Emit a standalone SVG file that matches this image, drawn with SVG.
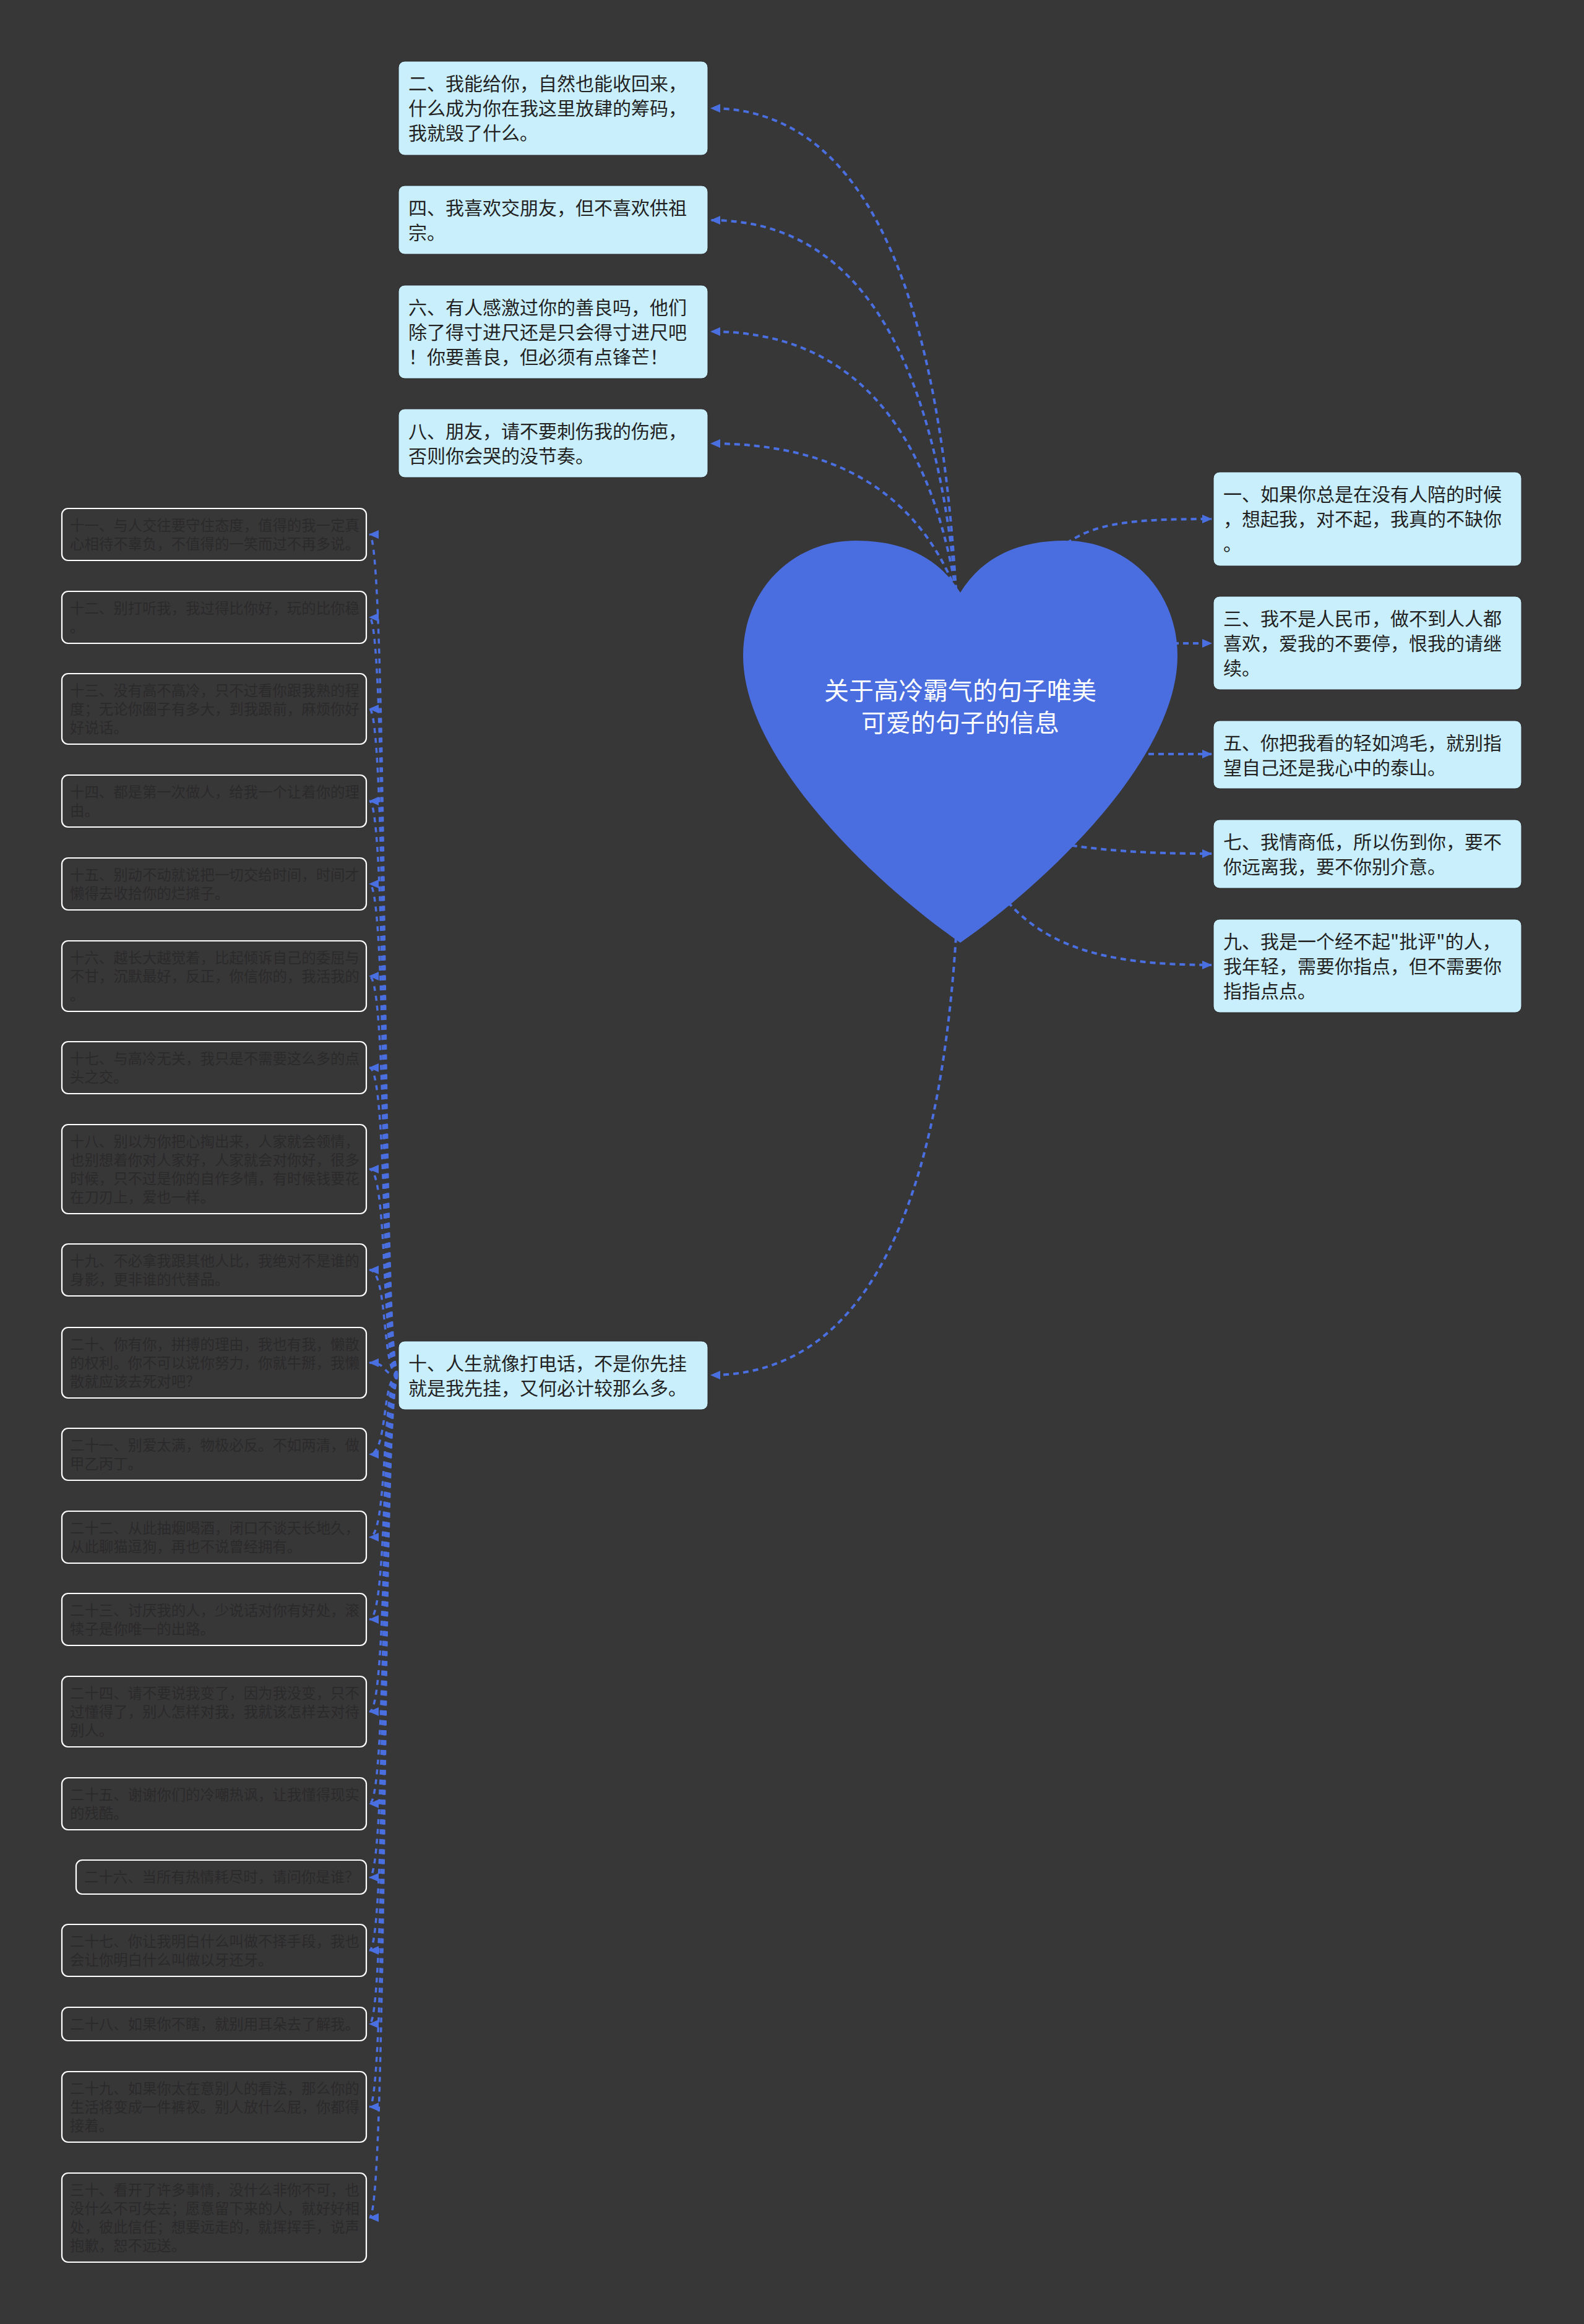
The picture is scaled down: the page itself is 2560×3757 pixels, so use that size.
<svg xmlns="http://www.w3.org/2000/svg" width="2560" height="3757" viewBox="0 0 2560 3757">
<defs>
<style>
.lb{fill:#c9eefc;stroke:#2a2a2a;stroke-width:1}
.lt{font-family:"Noto Sans CJK SC","Noto Sans",sans-serif;font-size:30px;fill:#222}
.db{fill:#383738;stroke:#ffffff;stroke-width:2.2}
.dt{font-family:"Noto Sans CJK SC","Noto Sans",sans-serif;font-size:23.4px;fill:#2b2a2b}
.c{fill:none;stroke:#4a6fe0;stroke-width:4;stroke-dasharray:9 7;marker-end:url(#ar)}
.cl{fill:none;stroke:#4a6fe0;stroke-width:3.5;stroke-dasharray:8 8;marker-end:url(#ar)}
.tt{font-family:"Noto Sans CJK SC","Noto Sans",sans-serif;font-size:40px;fill:#ffffff;text-anchor:middle}
</style>
<marker id="ar" viewBox="0 0 16 16" markerWidth="16" markerHeight="16" refX="15" refY="8" orient="auto" markerUnits="userSpaceOnUse">
<path d="M0,1 L16,8 L0,15 z" fill="#4a6fe0"/>
</marker>
</defs>
<rect width="2560" height="3757" fill="#383738"/>
<g id="connectors">
<path class="c" d="M1545,955 Q1500,175 1149,175"/>
<path class="c" d="M1545,955 Q1490,356 1149,356"/>
<path class="c" d="M1545,955 Q1475,536 1149,536"/>
<path class="c" d="M1545,955 Q1450,717 1149,717"/>
<path class="c" d="M1700,900 C1750,845 1820,839 1958,839"/>
<path class="c" d="M1880,1040 L1958,1040"/>
<path class="c" d="M1840,1219 L1958,1219"/>
<path class="c" d="M1700,1362 C1780,1375 1850,1380 1958,1380"/>
<path class="c" d="M1600,1420 C1670,1530 1780,1560 1958,1560"/>
<path class="c" d="M1545,1515 Q1500,2223 1149,2223"/>
<path class="cl" d="M644,2223 C616,2223 628,864 597,864"/>
<path class="cl" d="M644,2223 C616,2223 628,998 597,998"/>
<path class="cl" d="M644,2223 C616,2223 628,1146 597,1146"/>
<path class="cl" d="M644,2223 C616,2223 628,1295 597,1295"/>
<path class="cl" d="M644,2223 C616,2223 628,1429 597,1429"/>
<path class="cl" d="M644,2223 C616,2223 628,1578 597,1578"/>
<path class="cl" d="M644,2223 C616,2223 628,1726 597,1726"/>
<path class="cl" d="M644,2223 C616,2223 628,1890 597,1890"/>
<path class="cl" d="M644,2223 C616,2223 628,2053 597,2053"/>
<path class="cl" d="M644,2223 C616,2223 628,2203 597,2203"/>
<path class="cl" d="M644,2223 C616,2223 628,2351 597,2351"/>
<path class="cl" d="M644,2223 C616,2223 628,2485 597,2485"/>
<path class="cl" d="M644,2223 C616,2223 628,2618 597,2618"/>
<path class="cl" d="M644,2223 C616,2223 628,2767 597,2767"/>
<path class="cl" d="M644,2223 C616,2223 628,2916 597,2916"/>
<path class="cl" d="M644,2223 C616,2223 628,3035 597,3035"/>
<path class="cl" d="M644,2223 C616,2223 628,3153 597,3153"/>
<path class="cl" d="M644,2223 C616,2223 628,3272 597,3272"/>
<path class="cl" d="M644,2223 C616,2223 628,3406 597,3406"/>
<path class="cl" d="M644,2223 C616,2223 628,3585 597,3585"/>
</g>
<g id="root">
<path d="M1552,958 C1515,898 1455,874 1383,874 C1280,874 1201,955 1201,1060 C1201,1230 1422,1434 1552,1524 C1682,1434 1903,1230 1903,1060 C1903,955 1824,874 1721,874 C1649,874 1589,898 1552,958 Z" fill="#4a6ee0"/>
<text class="tt" x="1552" y="1131">关于高冷霸气的句子唯美</text>
<text class="tt" x="1552" y="1183">可爱的句子的信息</text>
</g>
<g id="n2"><rect class="lb" x="644" y="99" width="500" height="152" rx="10"/><text class="lt" x="660"><tspan x="660" y="146">二、我能给你，自然也能收回来，</tspan><tspan x="660" y="186">什么成为你在我这里放肆的筹码，</tspan><tspan x="660" y="226">我就毁了什么。</tspan></text></g>
<g id="n4"><rect class="lb" x="644" y="300" width="500" height="111" rx="10"/><text class="lt"><tspan x="660" y="347">四、我喜欢交朋友，但不喜欢供祖</tspan><tspan x="660" y="387">宗。</tspan></text></g>
<g id="n6"><rect class="lb" x="644" y="461" width="500" height="151" rx="10"/><text class="lt"><tspan x="660" y="508">六、有人感激过你的善良吗，他们</tspan><tspan x="660" y="548">除了得寸进尺还是只会得寸进尺吧</tspan><tspan x="660" y="588">！你要善良，但必须有点锋芒！</tspan></text></g>
<g id="n8"><rect class="lb" x="644" y="661" width="500" height="111" rx="10"/><text class="lt"><tspan x="660" y="708">八、朋友，请不要刺伤我的伤疤，</tspan><tspan x="660" y="748">否则你会哭的没节奏。</tspan></text></g>
<g id="n10"><rect class="lb" x="644" y="2168" width="500" height="111" rx="10"/><text class="lt"><tspan x="660" y="2215">十、人生就像打电话，不是你先挂</tspan><tspan x="660" y="2255">就是我先挂，又何必计较那么多。</tspan></text></g>
<g id="n1"><rect class="lb" x="1961" y="763" width="498" height="152" rx="10"/><text class="lt"><tspan x="1977" y="810">一、如果你总是在没有人陪的时候</tspan><tspan x="1977" y="850">，想起我，对不起，我真的不缺你</tspan><tspan x="1977" y="890">。</tspan></text></g>
<g id="n3"><rect class="lb" x="1961" y="964" width="498" height="151" rx="10"/><text class="lt"><tspan x="1977" y="1011">三、我不是人民币，做不到人人都</tspan><tspan x="1977" y="1051">喜欢，爱我的不要停，恨我的请继</tspan><tspan x="1977" y="1091">续。</tspan></text></g>
<g id="n5"><rect class="lb" x="1961" y="1165" width="498" height="110" rx="10"/><text class="lt"><tspan x="1977" y="1212">五、你把我看的轻如鸿毛，就别指</tspan><tspan x="1977" y="1252">望自己还是我心中的泰山。</tspan></text></g>
<g id="n7"><rect class="lb" x="1961" y="1325" width="498" height="111" rx="10"/><text class="lt"><tspan x="1977" y="1372">七、我情商低，所以伤到你，要不</tspan><tspan x="1977" y="1412">你远离我，要不你别介意。</tspan></text></g>
<g id="n9"><rect class="lb" x="1961" y="1486" width="498" height="151" rx="10"/><text class="lt"><tspan x="1977" y="1533">九、我是一个经不起"批评"的人，</tspan><tspan x="1977" y="1573">我年轻，需要你指点，但不需要你</tspan><tspan x="1977" y="1613">指指点点。</tspan></text></g>
<g id="n11"><rect class="db" x="100" y="822" width="492" height="84" rx="10"/><text class="dt"><tspan x="113" y="858">十一、与人交往要守住态度，值得的我一定真</tspan><tspan x="113" y="888">心相待不辜负，不值得的一笑而过不再多说。</tspan></text></g>
<g id="n12"><rect class="db" x="100" y="956" width="492" height="84" rx="10"/><text class="dt"><tspan x="113" y="992">十二、别打听我，我过得比你好，玩的比你稳</tspan><tspan x="113" y="1022">。</tspan></text></g>
<g id="n13"><rect class="db" x="100" y="1089" width="492" height="114" rx="10"/><text class="dt"><tspan x="113" y="1125">十三、没有高不高冷，只不过看你跟我熟的程</tspan><tspan x="113" y="1155">度；无论你圈子有多大，到我跟前，麻烦你好</tspan><tspan x="113" y="1185">好说话。</tspan></text></g>
<g id="n14"><rect class="db" x="100" y="1253" width="492" height="84" rx="10"/><text class="dt"><tspan x="113" y="1289">十四、都是第一次做人，给我一个让着你的理</tspan><tspan x="113" y="1319">由。</tspan></text></g>
<g id="n15"><rect class="db" x="100" y="1387" width="492" height="84" rx="10"/><text class="dt"><tspan x="113" y="1423">十五、别动不动就说把一切交给时间，时间才</tspan><tspan x="113" y="1453">懒得去收拾你的烂摊子。</tspan></text></g>
<g id="n16"><rect class="db" x="100" y="1521" width="492" height="114" rx="10"/><text class="dt"><tspan x="113" y="1557">十六、越长大越觉着，比起倾诉自己的委屈与</tspan><tspan x="113" y="1587">不甘，沉默最好，反正，你信你的，我活我的</tspan><tspan x="113" y="1617">。</tspan></text></g>
<g id="n17"><rect class="db" x="100" y="1684" width="492" height="84" rx="10"/><text class="dt"><tspan x="113" y="1720">十七、与高冷无关，我只是不需要这么多的点</tspan><tspan x="113" y="1750">头之交。</tspan></text></g>
<g id="n18"><rect class="db" x="100" y="1818" width="492" height="144" rx="10"/><text class="dt"><tspan x="113" y="1854">十八、别以为你把心掏出来，人家就会领情，</tspan><tspan x="113" y="1884">也别想着你对人家好，人家就会对你好，很多</tspan><tspan x="113" y="1914">时候，只不过是你的自作多情，有时候钱要花</tspan><tspan x="113" y="1944">在刀刃上，爱也一样。</tspan></text></g>
<g id="n19"><rect class="db" x="100" y="2011" width="492" height="84" rx="10"/><text class="dt"><tspan x="113" y="2047">十九、不必拿我跟其他人比，我绝对不是谁的</tspan><tspan x="113" y="2077">身影，更非谁的代替品。</tspan></text></g>
<g id="n20"><rect class="db" x="100" y="2146" width="492" height="114" rx="10"/><text class="dt"><tspan x="113" y="2182">二十、你有你，拼搏的理由，我也有我，懒散</tspan><tspan x="113" y="2212">的权利。你不可以说你努力，你就牛掰，我懒</tspan><tspan x="113" y="2242">散就应该去死对吧？</tspan></text></g>
<g id="n21"><rect class="db" x="100" y="2309" width="492" height="84" rx="10"/><text class="dt"><tspan x="113" y="2345">二十一、别爱太满，物极必反。不如两清，做</tspan><tspan x="113" y="2375">甲乙丙丁。</tspan></text></g>
<g id="n22"><rect class="db" x="100" y="2443" width="492" height="84" rx="10"/><text class="dt"><tspan x="113" y="2479">二十二、从此抽烟喝酒，闭口不谈天长地久，</tspan><tspan x="113" y="2509">从此聊猫逗狗，再也不说曾经拥有。</tspan></text></g>
<g id="n23"><rect class="db" x="100" y="2576" width="492" height="84" rx="10"/><text class="dt"><tspan x="113" y="2612">二十三、讨厌我的人，少说话对你有好处，滚</tspan><tspan x="113" y="2642">犊子是你唯一的出路。</tspan></text></g>
<g id="n24"><rect class="db" x="100" y="2710" width="492" height="114" rx="10"/><text class="dt"><tspan x="113" y="2746">二十四、请不要说我变了，因为我没变，只不</tspan><tspan x="113" y="2776">过懂得了，别人怎样对我，我就该怎样去对待</tspan><tspan x="113" y="2806">别人。</tspan></text></g>
<g id="n25"><rect class="db" x="100" y="2874" width="492" height="84" rx="10"/><text class="dt"><tspan x="113" y="2910">二十五、谢谢你们的冷嘲热讽，让我懂得现实</tspan><tspan x="113" y="2940">的残酷。</tspan></text></g>
<g id="n26"><rect class="db" x="123" y="3007" width="469" height="55" rx="10"/><text class="dt"><tspan x="136" y="3043">二十六、当所有热情耗尽时，请问你是谁？</tspan></text></g>
<g id="n27"><rect class="db" x="100" y="3111" width="492" height="84" rx="10"/><text class="dt"><tspan x="113" y="3147">二十七、你让我明白什么叫做不择手段，我也</tspan><tspan x="113" y="3177">会让你明白什么叫做以牙还牙。</tspan></text></g>
<g id="n28"><rect class="db" x="100" y="3245" width="492" height="54" rx="10"/><text class="dt"><tspan x="113" y="3281">二十八、如果你不瞎，就别用耳朵去了解我。</tspan></text></g>
<g id="n29"><rect class="db" x="100" y="3349" width="492" height="114" rx="10"/><text class="dt"><tspan x="113" y="3385">二十九、如果你太在意别人的看法，那么你的</tspan><tspan x="113" y="3415">生活将变成一件裤衩。别人放什么屁，你都得</tspan><tspan x="113" y="3445">接着。</tspan></text></g>
<g id="n30"><rect class="db" x="100" y="3513" width="492" height="144" rx="10"/><text class="dt"><tspan x="113" y="3549">三十、看开了许多事情，没什么非你不可，也</tspan><tspan x="113" y="3579">没什么不可失去；愿意留下来的人，就好好相</tspan><tspan x="113" y="3609">处，彼此信任；想要远走的，就挥挥手，说声</tspan><tspan x="113" y="3639">抱歉，恕不远送。</tspan></text></g>
</svg>
